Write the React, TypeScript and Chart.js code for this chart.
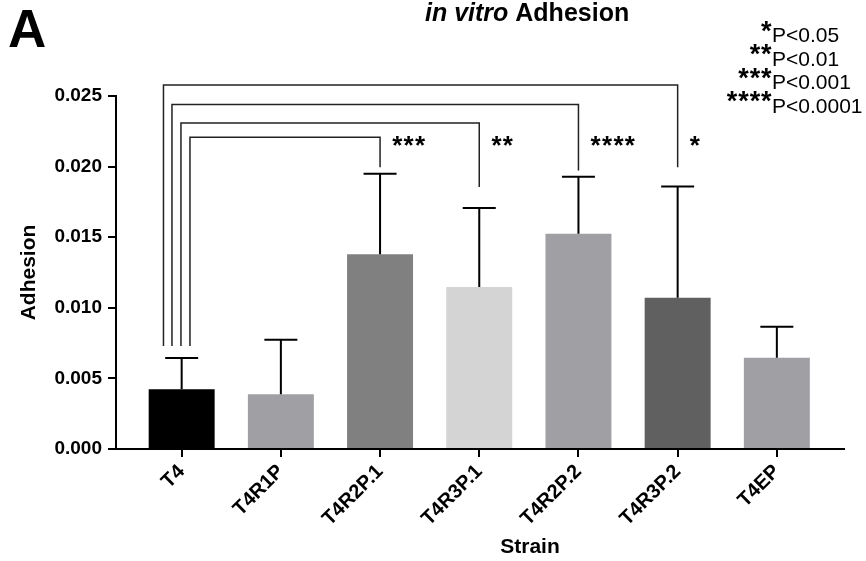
import React, { useEffect, useRef } from "react";
import { Chart, registerables } from "chart.js";

Chart.register(...registerables);

// ---------- data ----------
const strains = ["T4", "T4R1P", "T4R2P.1", "T4R3P.1", "T4R2P.2", "T4R3P.2", "T4EP"];
const meanAdhesion = [0.00424, 0.00388, 0.01379, 0.01148, 0.01525, 0.01071, 0.00647];
const sdAdhesion = [0.00221, 0.00386, 0.0057, 0.00558, 0.00403, 0.00788, 0.00219];
const barColors = ["#000000", "#a0a0a4", "#808080", "#d4d4d4", "#a0a0a4", "#606060", "#a0a0a4"];
const yTickValues = [0, 0.005, 0.01, 0.015, 0.02, 0.025];

// significance brackets (all vs T4)
const compTargets = [2, 3, 4, 5];
const compStars = ["***", "**", "****", "*"];
const compTop = [0.02208, 0.02309, 0.02439, 0.02578];
const compRightBottom = [0.01996, 0.01855, 0.01972, 0.01996];
const compLeftBottom = 0.0073;
const compStarLevel = 0.02184;

const legendStars = ["*", "**", "***", "****"];
const legendText = ["P<0.05", "P<0.01", "P<0.001", "P<0.0001"];

const FONT = "'Liberation Sans', Arial, Helvetica, sans-serif";

function drawStars(ctx: CanvasRenderingContext2D, n: number, leftX: number, centerY: number, pitch: number, size: number) {
  ctx.save();
  ctx.font = `bold ${size}px ${FONT}`;
  ctx.textAlign = "center";
  ctx.textBaseline = "alphabetic";
  const m = ctx.measureText("*");
  const asc = m.actualBoundingBoxAscent;
  const desc = m.actualBoundingBoxDescent;
  const baseline = centerY - (desc - asc) / 2;
  for (let j = 0; j < n; j++) {
    ctx.fillText("*", leftX + pitch * (j + 0.5), baseline);
  }
  ctx.restore();
}

const overlayPlugin = {
  id: "overlay",
  afterDatasetsDraw(chart: any) {
    const ctx: CanvasRenderingContext2D = chart.ctx;
    const xs = chart.scales.x;
    const ys = chart.scales.y;
    ctx.save();
    // error bars
    ctx.strokeStyle = "#000";
    ctx.lineWidth = 2;
    for (let i = 0; i < strains.length; i++) {
      const x = xs.getPixelForValue(i);
      const y0 = ys.getPixelForValue(meanAdhesion[i]);
      const y1 = ys.getPixelForValue(meanAdhesion[i] + sdAdhesion[i]);
      ctx.beginPath();
      ctx.moveTo(x, y0);
      ctx.lineTo(x, y1);
      ctx.moveTo(x - 16.5, y1);
      ctx.lineTo(x + 16.5, y1);
      ctx.stroke();
    }
    // brackets
    const leftOffsets = [8.3, -0.7, -9.7, -18.2];
    ctx.strokeStyle = "#222";
    ctx.lineWidth = 1.5;
    const x0 = xs.getPixelForValue(0);
    for (let k = 0; k < compTargets.length; k++) {
      const xl = x0 + leftOffsets[k];
      const xr = xs.getPixelForValue(compTargets[k]);
      const yt = ys.getPixelForValue(compTop[k]);
      ctx.beginPath();
      ctx.moveTo(xl, ys.getPixelForValue(compLeftBottom));
      ctx.lineTo(xl, yt);
      ctx.lineTo(xr, yt);
      ctx.lineTo(xr, ys.getPixelForValue(compRightBottom[k]));
      ctx.stroke();
      ctx.fillStyle = "#000";
      drawStars(ctx, compStars[k].length, xr + 11.5, ys.getPixelForValue(compStarLevel), 11.4, 26);
    }
    ctx.restore();
  },
  afterDraw(chart: any) {
    const ctx: CanvasRenderingContext2D = chart.ctx;
    ctx.save();
    ctx.fillStyle = "#000";
    ctx.textBaseline = "alphabetic";
    // panel letter
    ctx.font = `bold 53px ${FONT}`;
    ctx.textAlign = "left";
    ctx.fillText("A", 8, 47);
    // title
    ctx.font = `italic bold 25px ${FONT}`;
    const part1 = "in vitro ";
    ctx.fillText(part1, 425, 21);
    const w1 = ctx.measureText(part1).width;
    ctx.font = `bold 25px ${FONT}`;
    ctx.fillText("Adhesion", 425 + w1, 21);
    // x axis title
    ctx.font = `bold 21px ${FONT}`;
    ctx.textAlign = "center";
    ctx.fillText("Strain", 530, 553);
    // legend
    for (let k = 0; k < legendText.length; k++) {
      const baseline = 42 + 23.5 * k;
      ctx.font = `21px ${FONT}`;
      ctx.textAlign = "left";
      ctx.fillText(legendText[k], 772, baseline);
      const n = legendStars[k].length;
      drawStars(ctx, n, 772 - 11.4 * n, baseline - 16, 11.4, 27);
    }
    ctx.restore();
  },
};

export default function App() {
  const canvasRef = useRef<HTMLCanvasElement | null>(null);

  useEffect(() => {
    const canvas = canvasRef.current;
    if (!canvas) return;
    const chart = new Chart(canvas, {
      type: "bar",
      data: {
        datasets: [
          {
            data: strains.map((_, i) => ({ x: i, y: meanAdhesion[i] })) as any,
            backgroundColor: barColors,
            borderWidth: 0,
            barPercentage: 0.665,
            categoryPercentage: 1,
          },
        ],
      },
      options: {
        responsive: false,
        animation: false,
        devicePixelRatio: 1,
        layout: { padding: { top: 96, right: 22, left: 0, bottom: 0 } },
        plugins: {
          legend: { display: false },
          tooltip: { enabled: false },
          title: { display: false },
        },
        scales: {
          x: {
            type: "linear",
            min: -0.662,
            max: 6.677,
            offset: false,
            afterBuildTicks: (s: any) => {
              s.ticks = strains.map((_, i) => ({ value: i }));
            },
            afterFit: (s: any) => {
              s.height = 112;
            },
            ticks: {
              autoSkip: false,
              minRotation: 45,
              maxRotation: 45,
              color: "#000",
              padding: 3,
              font: { family: FONT, size: 20, weight: "bold" },
              callback: (v: any) => strains[Number(v)] ?? "",
            },
            grid: {
              display: true,
              drawOnChartArea: false,
              drawTicks: true,
              tickLength: 8,
              color: "#000",
              lineWidth: 2,
              offset: false,
            },
            border: { display: true, color: "#000", width: 2 },
          } as any,
          y: {
            min: 0,
            max: 0.025,
            afterBuildTicks: (s: any) => {
              s.ticks = yTickValues.map((v) => ({ value: v }));
            },
            afterFit: (s: any) => {
              s.width = 116;
            },
            ticks: {
              color: "#000",
              padding: 6,
              font: { family: FONT, size: 19, weight: "bold" },
              callback: (v: any) => Number(v).toFixed(3),
            },
            grid: {
              display: true,
              drawOnChartArea: false,
              drawTicks: true,
              tickLength: 8,
              color: "#000",
              lineWidth: 2,
            },
            border: { display: true, color: "#000", width: 2 },
            title: {
              display: true,
              text: "Adhesion",
              color: "#000",
              font: { family: FONT, size: 21, weight: "bold" },
              padding: { top: 17, bottom: 0 },
            },
          } as any,
        },
      },
      plugins: [overlayPlugin],
    });
    return () => chart.destroy();
  }, []);

  return (
    <div style={{ position: "fixed", left: 0, top: 0, width: 866, height: 561, background: "#fff" }}>
      <canvas ref={canvasRef} width={866} height={561} style={{ display: "block" }} />
    </div>
  );
}
